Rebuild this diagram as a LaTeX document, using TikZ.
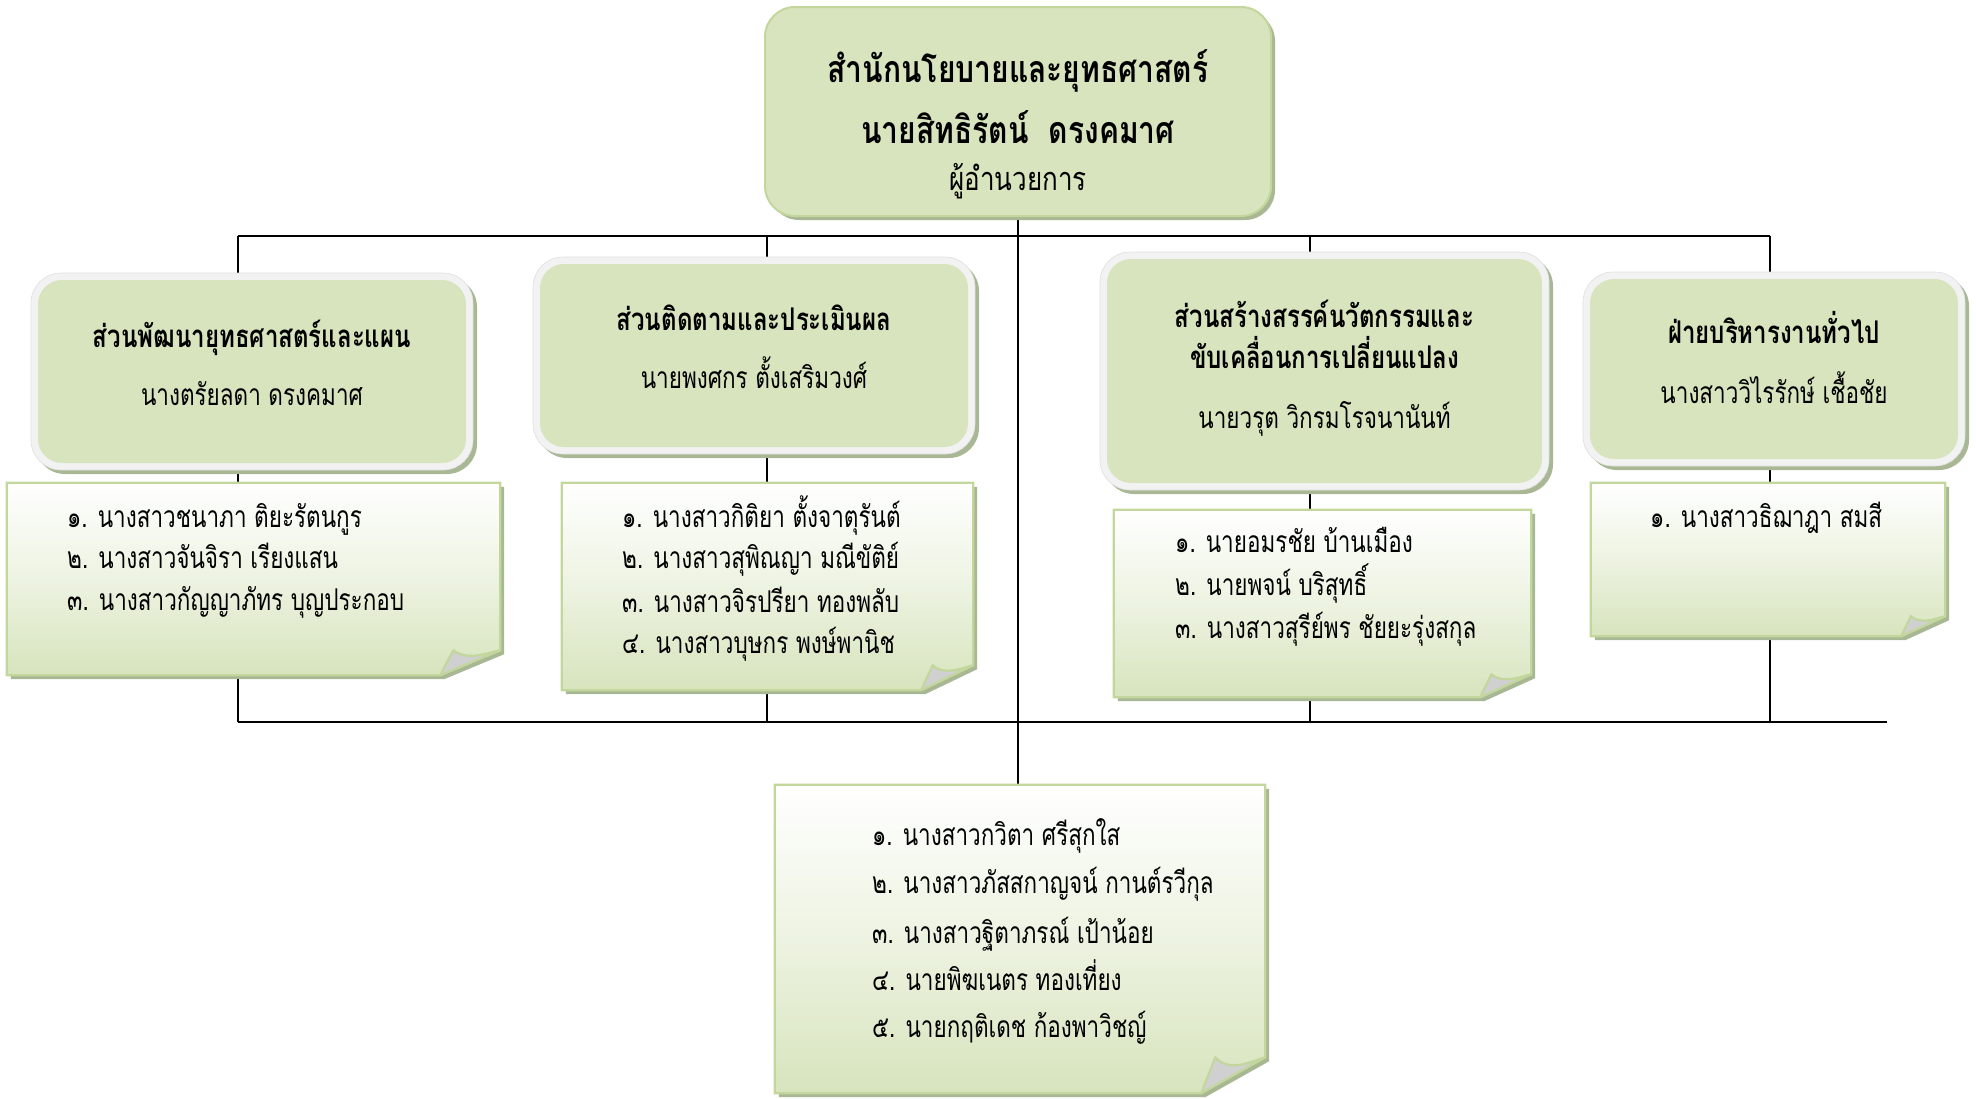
\documentclass[tikz,border=0pt]{standalone}
\usepackage{fontspec}
\newfontfamily\thaiT[Script=Thai, FakeStretch=0.80]{Loma}
\newfontfamily\thaiH[Script=Thai, FakeStretch=0.77]{Loma}
\newfontfamily\thaiN[Script=Thai, FakeStretch=0.75]{Loma}
\usetikzlibrary{shadows}
\definecolor{boxgreen}{HTML}{D7E4BD}
\definecolor{edgegreen}{HTML}{C3D69B}
\definecolor{shadowc}{HTML}{A9B894}
\definecolor{rimgray}{HTML}{F2F2F2}
\definecolor{flapgray}{HTML}{D0D0D0}
\pgfdeclarelayer{background}
\pgfsetlayers{background,main}
\tikzset{
  topbox/.style={fill=boxgreen, draw=edgegreen, line width=2pt, rounded corners=30pt,
    drop shadow={shadow xshift=4pt, shadow yshift=-4pt, fill=shadowc, opacity=1}, inner sep=0pt},
  rimbox/.style={fill=rimgray, draw=rimgray!92!black, line width=0.6pt, rounded corners=30pt,
    drop shadow={shadow xshift=4pt, shadow yshift=-4pt, fill=shadowc, opacity=1}, inner sep=0pt},
  innerbox/.style={fill=boxgreen, rounded corners=24pt, inner sep=0pt},
  listbox/.style={inner sep=0pt},
  conn/.style={line width=2pt, black},
  ttl/.style={font=\thaiT\bfseries\fontsize{37.5}{44}\selectfont, anchor=base, inner sep=0pt},
  ttn/.style={font=\thaiT\fontsize{32.5}{38}\selectfont, anchor=base, inner sep=0pt},
  hd/.style={font=\thaiH\bfseries\fontsize{31.25}{36}\selectfont, anchor=base, inner sep=0pt},
  nm/.style={font=\thaiN\fontsize{30}{36}\selectfont, anchor=base, inner sep=0pt},
  itm/.style={font=\thaiN\fontsize{30}{36}\selectfont, anchor=base west, inner sep=0pt},
}
% folded-corner note box drawn on a named rectangle node: name, fold width, fold height
\newcommand\foldbox[3]{%
  \fill[shadowc] ([shift={(4,4)}]#1.north west) -- ([shift={(4,4)}]#1.north east)
    -- ([shift={(4,4-#3)}]#1.south east) -- ([shift={(4-#2,4)}]#1.south east)
    -- ([shift={(4,4)}]#1.south west) -- cycle;
  \shade[top color=white, bottom color=boxgreen, middle color=boxgreen!45!white]
    (#1.north west) -- (#1.north east) -- ([shift={(0,-#3)}]#1.south east)
    -- ([shift={(-#2,0)}]#1.south east) -- (#1.south west) -- cycle;
  \draw[edgegreen, line width=2.2pt, line join=miter]
    (#1.north west) -- (#1.north east) -- ([shift={(0,-#3)}]#1.south east)
    -- ([shift={(-#2,0)}]#1.south east) -- (#1.south west) -- cycle;
  \draw[edgegreen, line width=2.2pt, fill=flapgray, line join=round]
    ([shift={(-#2,0)}]#1.south east) -- ([shift={(-0.78*#2,-#3)}]#1.south east)
    .. controls ([shift={(-0.55*#2,-0.55*#3)}]#1.south east) and ([shift={(-0.2*#2,-0.9*#3)}]#1.south east)
    .. ([shift={(0,-#3)}]#1.south east) -- cycle;
}
\begin{document}
\begin{tikzpicture}[x=1pt, y=-1pt]
\useasboundingbox (0,0) rectangle (1976,1098);

% ---------- boxes ----------
\node[topbox, minimum width=506pt, minimum height=209pt] (top) at (1018,111.5) {};

\node[rimbox, minimum width=442pt, minimum height=197pt] (b1o) at (252,371.5) {};
\node[innerbox, minimum width=428pt, minimum height=183pt] (b1) at (252,371.5) {};
\node[rimbox, minimum width=442pt, minimum height=197pt] (b2o) at (754,355.5) {};
\node[innerbox, minimum width=428pt, minimum height=183pt] (b2) at (754,355.5) {};
\node[rimbox, minimum width=449pt, minimum height=238pt] (b3o) at (1324.5,371) {};
\node[innerbox, minimum width=435pt, minimum height=224pt] (b3) at (1324.5,371) {};
\node[rimbox, minimum width=382pt, minimum height=194pt] (b4o) at (1774,369) {};
\node[innerbox, minimum width=368pt, minimum height=180pt] (b4) at (1774,369) {};

\node[listbox, minimum width=493pt, minimum height=192pt] (l1) at (253.5,579) {};
\node[listbox, minimum width=411pt, minimum height=207pt] (l2) at (767.5,586.5) {};
\node[listbox, minimum width=417pt, minimum height=187pt] (l3) at (1322.5,603.5) {};
\node[listbox, minimum width=354pt, minimum height=153pt] (l4) at (1768,559.5) {};
\node[listbox, minimum width=490pt, minimum height=308pt] (l5) at (1020,939) {};
\foldbox{l1}{60}{25}
\foldbox{l2}{52}{25}
\foldbox{l3}{51}{23}
\foldbox{l4}{44}{20}
\foldbox{l5}{64}{36}

% ---------- connectors (behind the boxes) ----------
\coordinate (busL) at (238,236);
\coordinate (busR) at (1770,236);
\coordinate (c1t) at (238,236);  \coordinate (c1b) at (238,722);
\coordinate (c2t) at (767,236);  \coordinate (c2b) at (767,722);
\coordinate (c3t) at (1310,236); \coordinate (c3b) at (1310,722);
\coordinate (c4t) at (1770,236); \coordinate (c4b) at (1770,722);
\coordinate (botR) at (1887,722);
\begin{pgfonlayer}{background}
  \draw[conn] (busL) -- (busR);
  \draw[conn] (c1b) -- (botR);
  \draw[conn] (top.south) -- (top.south |- l5.north);
  \draw[conn] (c1t) -- (c1b);
  \draw[conn] (c2t) -- (c2b);
  \draw[conn] (c3t) -- (c3b);
  \draw[conn] (c4t) -- (c4b);
\end{pgfonlayer}

% ---------- texts ----------
\node[ttl] (t1) at (1018,82) {สำนักนโยบายและยุทธศาสตร์};
\node[ttl] (t2) at (1018,143) {นายสิทธิรัตน์\ \ ดรงคมาศ};
\node[ttn] (t3) at (1018,190) {ผู้อำนวยการ};

\node[hd] (h1) at (252,347) {ส่วนพัฒนายุทธศาสตร์และแผน};
\node[nm] (n1) at (252,405) {นางตรัยลดา ดรงคมาศ};
\node[hd] (h2) at (754,330) {ส่วนติดตามและประเมินผล};
\node[nm] (n2) at (754,388) {นายพงศกร ตั้งเสริมวงศ์};
\node[hd] (h3a) at (1324.5,327) {ส่วนสร้างสรรค์นวัตกรรมและ};
\node[hd] (h3b) at (1324.5,368) {ขับเคลื่อนการเปลี่ยนแปลง};
\node[nm] (n3) at (1324.5,428) {นายวรุต วิกรมโรจนานันท์};
\node[hd] (h4) at (1774,343) {ฝ่ายบริหารงานทั่วไป};
\node[nm] (n4) at (1774,403) {นางสาววิไรรักษ์ เชื้อชัย};

\node[itm] (l1a) at (67,527) {๑. นางสาวชนาภา ติยะรัตนกูร};
\node[itm] (l1b) at (67,568) {๒. นางสาวจันจิรา เรียงแสน};
\node[itm] (l1c) at (67,610) {๓. นางสาวกัญญาภัทร บุญประกอบ};

\node[itm] (l2a) at (622,527) {๑. นางสาวกิติยา ตั้งจาตุรันต์};
\node[itm] (l2b) at (622,568) {๒. นางสาวสุพิณญา มณีขัติย์};
\node[itm] (l2c) at (622,612) {๓. นางสาวจิรปรียา ทองพลับ};
\node[itm] (l2d) at (622,653) {๔. นางสาวบุษกร พงษ์พานิช};

\node[itm] (l3a) at (1175,552) {๑. นายอมรชัย บ้านเมือง};
\node[itm] (l3b) at (1175,595) {๒. นายพจน์ บริสุทธิ์};
\node[itm] (l3c) at (1175,638) {๓. นางสาวสุรีย์พร ชัยยะรุ่งสกุล};

\node[itm] (l4a) at (1650,527) {๑. นางสาวธิฌาฎา สมสี};

\node[itm] (l5a) at (872,845) {๑. นางสาวกวิตา ศรีสุกใส};
\node[itm] (l5b) at (872,893) {๒. นางสาวภัสสกาญจน์ กานต์รวีกุล};
\node[itm] (l5c) at (872,943) {๓. นางสาวฐิตาภรณ์ เป้าน้อย};
\node[itm] (l5d) at (872,990) {๔. นายพิฆเนตร ทองเที่ยง};
\node[itm] (l5e) at (872,1037) {๕. นายกฤติเดช ก้องพาวิชญ์};
\end{tikzpicture}
\end{document}
